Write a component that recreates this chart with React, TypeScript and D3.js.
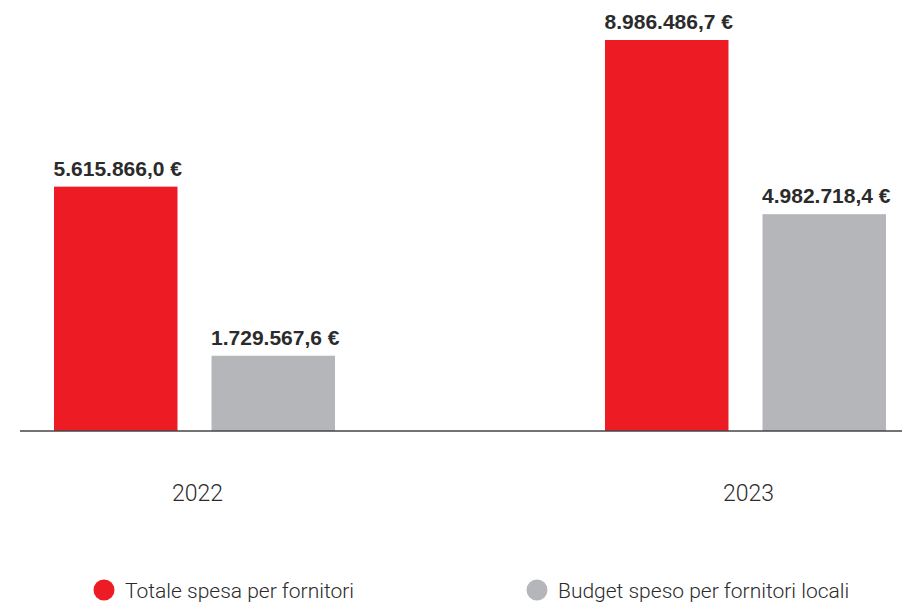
import React from 'react';
import * as d3 from 'd3';

const years = ['2022', '2023'];
const seriesKeys = ['totale', 'locali'];
const seriesLabels = ['Totale spesa per fornitori', 'Budget speso per fornitori locali'];
const totaleValues = [5615866.0, 8986486.7];
const localiValues = [1729567.6, 4982718.4];
const colors = ['#ed1c24', '#b5b6b9'];

const width = 902;
const height = 603;

const fmt = (v: number) => {
  const [int, dec] = v.toFixed(1).split('.');
  return int.replace(/\B(?=(\d{3})+(?!\d))/g, '.') + ',' + dec + ' €';
};

const App: React.FC = () => {
  const x0 = d3.scaleBand<string>()
    .domain(years)
    .range([54, 886])
    .paddingInner(0.49)
    .paddingOuter(0);

  const x1 = d3.scaleBand<string>()
    .domain(seriesKeys)
    .range([0, x0.bandwidth()])
    .paddingInner(0.216)
    .paddingOuter(0);

  const y = d3.scaleLinear()
    .domain([0, d3.max(totaleValues) as number])
    .range([431, 40]);

  const rows = years.map((year, i) => ({
    year,
    values: [totaleValues[i], localiValues[i]],
  }));

  const textColor = '#2b2b2b';

  return (
    <div style={{ position: 'fixed', left: 0, top: 0 }}>
      <svg width={width} height={height} style={{ display: 'block', background: '#fff' }}>
        {rows.map((row) => (
          <g key={row.year} transform={`translate(${x0(row.year)},0)`}>
            {row.values.map((v, j) => {
              const bx = x1(seriesKeys[j]) as number;
              return (
                <g key={seriesKeys[j]}>
                  <rect
                    x={bx}
                    y={y(v)}
                    width={x1.bandwidth()}
                    height={y(0) - y(v)}
                    fill={colors[j]}
                  />
                  <text
                    x={bx + x1.bandwidth() / 2 + 2}
                    y={y(v) - 11}
                    textAnchor="middle"
                    fontFamily="'Liberation Sans', Arial, sans-serif"
                    fontWeight="bold"
                    fontSize={21}
                    fill={textColor}
                  >
                    {fmt(v)}
                  </text>
                </g>
              );
            })}
            <text
              x={x0.bandwidth() / 2 + 3}
              y={501}
              textAnchor="middle"
              fontFamily="Roboto, 'Liberation Sans', sans-serif"
              fontWeight={300}
              fontSize={23}
              fill={textColor}
            >
              {row.year}
            </text>
          </g>
        ))}

        <line x1={20} x2={width} y1={y(0)} y2={y(0)} stroke="#444" strokeWidth={1.5} />

        {seriesLabels.map((label, i) => {
          const lx = i === 0 ? 104 : 537;
          return (
            <g key={label} transform={`translate(${lx},590)`}>
              <circle r={10.5} fill={colors[i]} />
              <text
                x={21}
                y={8}
                fontFamily="Roboto, 'Liberation Sans', sans-serif"
                fontWeight={300}
                fontSize={21}
                fill={textColor}
              >
                {label}
              </text>
            </g>
          );
        })}
      </svg>
    </div>
  );
};

export default App;
